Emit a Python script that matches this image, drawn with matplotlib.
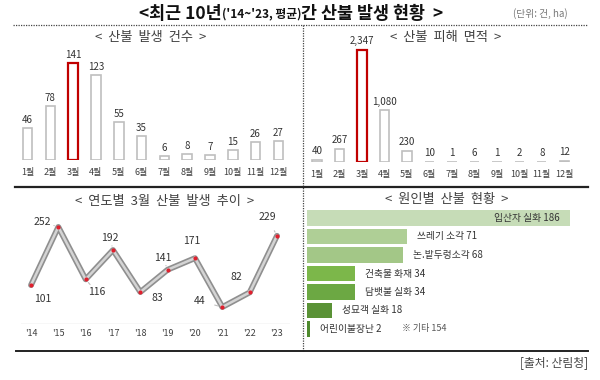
import matplotlib
matplotlib.use("Agg")
import matplotlib.pyplot as plt
from matplotlib.lines import Line2D

plt.rcParams['font.family'] = ['Noto Sans CJK KR', 'DejaVu Sans']

# ---------------- data ----------------
months = ['1월', '2월', '3월', '4월', '5월', '6월', '7월', '8월', '9월', '10월', '11월', '12월']
fire_counts = [46, 78, 141, 123, 55, 35, 6, 8, 7, 15, 26, 27]
fire_area = [40, 267, 2347, 1080, 230, 10, 1, 6, 1, 2, 8, 12]
years = ["'14", "'15", "'16", "'17", "'18", "'19", "'20", "'21", "'22", "'23"]
march_fires = [101, 252, 116, 192, 83, 141, 171, 44, 82, 229]
causes = ['입산자 실화', '쓰레기 소각', '논.밭두렁소각', '건축물 화재', '담뱃불 실화', '성묘객 실화', '어린이불장난']
cause_counts = [186, 71, 68, 34, 34, 18, 2]
other_label = '※ 기타'
other_count = 154

W, H = 600, 380
fig = plt.figure(figsize=(6, 3.8), dpi=100)

def fx(x):
    return x / W

def fy(y):
    return 1 - y / H

def add_ax(left, top, right, bottom):
    ax = fig.add_axes([left / W, 1 - bottom / H, (right - left) / W, (bottom - top) / H])
    ax.set_facecolor('none')
    for s in ax.spines.values():
        s.set_visible(False)
    ax.set_xticks([])
    ax.set_yticks([])
    return ax

def fline(x0, y0, x1, y1, **kw):
    fig.add_artist(Line2D([fx(x0), fx(x1)], [fy(y0), fy(y1)], transform=fig.transFigure, **kw))

# ---------------- frame lines ----------------
fline(13, 25, 588, 25, color='#444444', lw=0.9, linestyle=(0, (1, 1)))
fline(303, 25, 303, 351, color='#444444', lw=0.9, linestyle=(0, (1, 1)))
fline(15, 187, 588, 187, color='#222222', lw=1.6)
fline(16, 351, 588, 351, color='#222222', lw=1.4)

# ---------------- title ----------------
fig.canvas.draw()
renderer = fig.canvas.get_renderer()
parts = [("<최근 10년", 12.5, 'bold'), ("('14~'23, 평균)", 8.5, 'bold'), ("간 산불 발생 현황  >", 12.5, 'bold')]
texts = []
x = 0.0
for s, size, wt in parts:
    t = fig.text(fx(x), fy(14), s, fontsize=size, fontweight=wt, color='#111111', va='center', ha='left')
    bb = t.get_window_extent(renderer)
    texts.append(t)
    x += bb.width
total = x
start = 291 - total / 2
x = start
for t in texts:
    bb = t.get_window_extent(renderer)
    t.set_x(fx(x))
    x += bb.width
fig.text(fx(513), fy(14), '(단위: 건, ha)', fontsize=7, color='#777777', va='center', ha='left')

# subtitles
sub_kw = dict(fontsize=9.5, color='#404040', va='center', ha='center')
fig.text(fx(151), fy(37), '<  산불  발생  건수  >', **sub_kw)
fig.text(fx(446), fy(37), '<  산불  피해  면적  >', **sub_kw)
fig.text(fx(165), fy(202), '<  연도별  3월  산불  발생  추이  >', **sub_kw)
fig.text(fx(447), fy(200), '<  원인별  산불  현황  >', **sub_kw)

PT = 0.72  # px -> points

# ---------------- monthly counts ----------------
ax1 = add_ax(15, 45, 290, 160)
ax1.set_xlim(-0.55, 11.51)
ax1.set_ylim(0, 166.7)
for i, v in enumerate(fire_counts):
    red = (i == 2)
    ax1.bar(i, v, width=0.42, facecolor='white', edgecolor='#c00000' if red else '#bfbfbf',
            linewidth=1.6 if red else 1.2, zorder=3)
    ax1.annotate(str(v), (i, v), xytext=(0, 8 * PT), textcoords='offset points',
                 ha='center', va='center', fontsize=7, color='#333333')
    ax1.annotate(months[i], (i, 0), xytext=(0, -12 * PT), textcoords='offset points',
                 ha='center', va='center', fontsize=6.5, color='#404040')

# ---------------- monthly area ----------------
ax2 = add_ax(305, 45, 580, 162)
ax2.set_xlim(-0.53, 11.7)
ax2.set_ylim(0, 2453)
for i, v in enumerate(fire_area):
    red = (i == 2)
    ax2.bar(i, v, width=0.42, facecolor='white', edgecolor='#c00000' if red else '#bfbfbf',
            linewidth=1.6 if red else 1.2, zorder=3)
    ax2.annotate(f'{v:,}', (i, v), xytext=(0, 9 * PT), textcoords='offset points',
                 ha='center', va='center', fontsize=7, color='#333333')
    ax2.annotate(months[i], (i, 0), xytext=(0, -13 * PT), textcoords='offset points',
                 ha='center', va='center', fontsize=6.5, color='#404040')

# ---------------- march trend ----------------
ax3 = add_ax(21, 210, 290, 324)
ax3.set_xlim(-0.366, 9.476)
ax3.set_ylim(0, 296)
ax3.axhline(0, color='#d9d9d9', lw=1.0)
yx = list(range(len(years)))
ax3.plot(yx, march_fires, color='#8f8f8f', lw=4.2, solid_capstyle='round', zorder=2)
ax3.plot(yx, march_fires, color='#d4d4d4', lw=1.8, solid_capstyle='round', zorder=3)
ax3.plot(yx, march_fires, 'o', color='#e0202e', markersize=3.0, markeredgewidth=0, zorder=4)
label_offsets = [(12, 14), (-16, -5), (11, 13), (-3, -12), (17, 6), (-5, -12), (-3, -17), (-23, -6), (-13, -15), (-10, -19)]
for i, v in enumerate(march_fires):
    dx, dy = label_offsets[i]
    ax3.annotate(str(v), (i, v), xytext=(dx * PT, -dy * PT), textcoords='offset points',
                 ha='center', va='center', fontsize=7.5, color='#333333',
                 arrowprops=dict(arrowstyle='-', color='#bfbfbf', lw=0.8, shrinkA=5, shrinkB=3))
    ax3.annotate(years[i], (i, 0), xytext=(0, -10 * PT), textcoords='offset points',
                 ha='center', va='center', fontsize=6.5, color='#404040')

# ---------------- causes ----------------
ax4 = add_ax(307, 208.75, 588, 338.25)
ax4.set_xlim(0, 198.7)
ax4.set_ylim(6.5, -0.5)
cause_colors = ['#c6dcb7', '#afcf96', '#a3c787', '#7cb74a', '#6ca843', '#5a9236', '#4f8a2e']
for i, (name, v) in enumerate(zip(causes, cause_counts)):
    ax4.barh(i, v, height=0.84, color=cause_colors[i], zorder=2)
    if i == 0:
        ax4.annotate(f'{name} {v}', (v, i), xytext=(-10 * PT, 0), textcoords='offset points',
                     ha='right', va='center', fontsize=7, color='#333333')
    else:
        ax4.annotate(f'{name} {v}', (v, i), xytext=(10 * PT, 0), textcoords='offset points',
                     ha='left', va='center', fontsize=7, color='#333333')
fig.text(fx(402), fy(329), f'{other_label} {other_count}', fontsize=6.5, color='#555555', va='center', ha='left')

fig.text(fx(588), fy(363), '[출처: 산림청]', fontsize=8.5, color='#444444', va='center', ha='right')

fig.savefig('out.png', dpi=100)
